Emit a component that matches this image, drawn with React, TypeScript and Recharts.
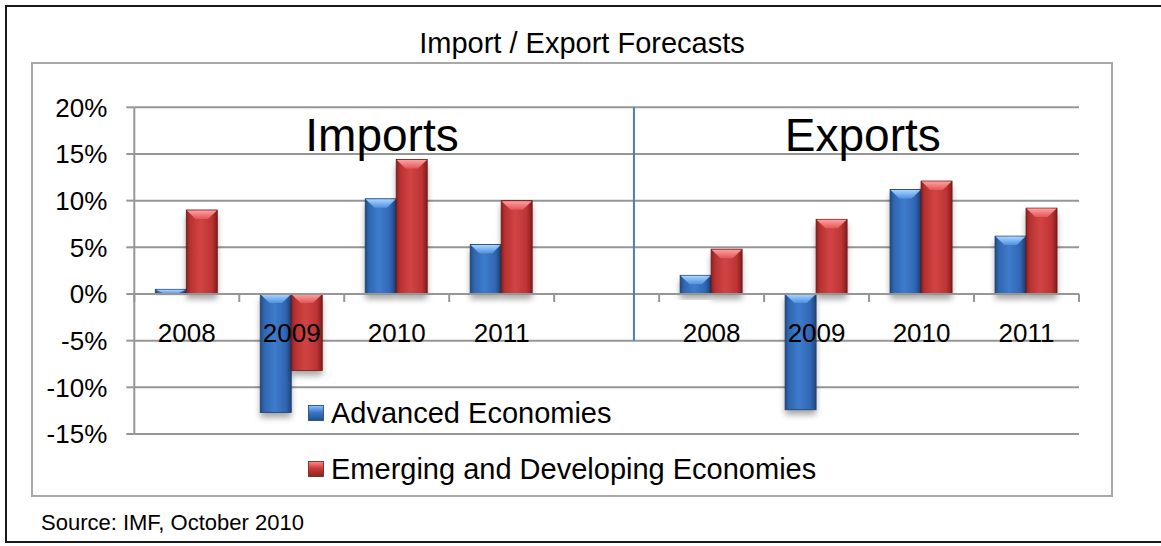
import React from 'react';
import { BarChart, Bar, XAxis, YAxis, CartesianGrid, ReferenceLine, ReferenceDot, Legend } from 'recharts';

// ---- data ----
const categories = ['2008', '2009', '2010', '2011', '', '2008', '2009', '2010', '2011'];
const advanced = [0.5, -12.7, 10.2, 5.3, null, 2.0, -12.4, 11.2, 6.2];
const emerging = [9.0, -8.2, 14.4, 10.0, null, 4.8, 8.0, 12.1, 9.2];
const yTicks = [-15, -10, -5, 0, 5, 10, 15, 20];
const seriesNames = ['Advanced Economies', 'Emerging and Developing Economies'];
const sectionLabels = ['Imports', 'Exports'];
// positions in category-slot units (slot i is centred on i)
const sectionLabelPos = [1.86, 6.44];
const sectionLabelValue = 17.1;
const separatorPos = 4.26;
const separatorRange = [20, -5];
const titleText = 'Import / Export Forecasts';
const sourceText = 'Source: IMF, October 2010';

const data = categories.map((c, i) => ({ slot: i, label: c, adv: advanced[i], emg: emerging[i] }));

// ---- layout ----
const W = 1161;
const H = 546;
const PLOT_LEFT = 134.3;
const PLOT_RIGHT = 1079;
const PLOT_TOP = 107.3;
const PLOT_BOTTOM = 434;
const YMIN = -15;
const YMAX = 20;
const XAXIS_H = 30;
const BAND = (PLOT_RIGHT - PLOT_LEFT) / categories.length;
const ZERO_Y = PLOT_TOP + ((PLOT_BOTTOM - PLOT_TOP) * YMAX) / (YMAX - YMIN);
const GRID = '#969696';
const FONT = '"Liberation Sans", Arial, Helvetica, sans-serif';

const CategoryTick = (props: any) => {
  const { x, payload } = props;
  const idx = Number(payload?.value);
  const left = x - BAND / 2;
  return (
    <g>
      <line x1={left} x2={left} y1={ZERO_Y} y2={ZERO_Y + 8} stroke={GRID} strokeWidth={2} />
      {idx === categories.length - 1 && (
        <line x1={x + BAND / 2} x2={x + BAND / 2} y1={ZERO_Y} y2={ZERO_Y + 8} stroke={GRID} strokeWidth={2} />
      )}
      <text x={x} y={ZERO_Y + 48.5} textAnchor="middle" fontSize={26} fill="#000" fontFamily={FONT}>
        {categories[idx]}
      </text>
    </g>
  );
};

const makeShape = (kind: 'blue' | 'red') => (props: any) => {
  const { x, y, width, height } = props;
  if (x == null || y == null || width == null || height == null || isNaN(y) || isNaN(height)) return null;
  const top = Math.min(y, y + height);
  const h = Math.abs(height);
  if (h <= 0) return null;
  const bev = Math.min(9, h);
  const inset = width * 0.3;
  const stroke = kind === 'blue' ? '#1d3f6e' : '#6a1818';
  return (
    <g>
      <rect x={x} y={top} width={width} height={h} fill="#000" opacity={0.35} filter="url(#barShadow)" />
      <rect x={x} y={top} width={width} height={h} fill={`url(#grad-${kind})`} stroke={stroke} strokeWidth={0.8} />
      <polygon
        points={`${x + 0.5},${top + 0.5} ${x + width - 0.5},${top + 0.5} ${x + width - inset},${top + bev} ${x + inset},${top + bev}`}
        fill={`url(#bev-${kind})`}
      />
    </g>
  );
};

const LegendSwatch = ({ kind }: { kind: 'blue' | 'red' }) => (
  <svg width={16} height={16} style={{ display: 'block' }}>
    <defs>
      <linearGradient id={`lg-${kind}`} x1="0" y1="0" x2="0" y2="1">
        <stop offset="0%" stopColor={kind === 'blue' ? '#8cc4ff' : '#ff8a8a'} />
        <stop offset="45%" stopColor={kind === 'blue' ? '#3a78c8' : '#cc3a3a'} />
        <stop offset="100%" stopColor={kind === 'blue' ? '#244f8c' : '#8c2222'} />
      </linearGradient>
    </defs>
    <rect x={0.5} y={0.5} width={15} height={15} fill={`url(#lg-${kind})`} stroke={kind === 'blue' ? '#1d3f6e' : '#6a1818'} strokeWidth={0.8} />
  </svg>
);

const LegendContent = () => (
  <div style={{ display: 'flex', flexDirection: 'column', fontFamily: FONT }}>
    {seriesNames.map((n, i) => (
      <div key={n} style={{ display: 'flex', alignItems: 'center', height: 56 }}>
        <LegendSwatch kind={i === 0 ? 'blue' : 'red'} />
        <span style={{ marginLeft: 7, fontSize: 29, color: '#000', whiteSpace: 'nowrap' }}>{n}</span>
      </div>
    ))}
  </div>
);

export default function App() {
  return (
    <div style={{ position: 'absolute', left: 0, top: 0, width: W, height: H, background: '#fff', fontFamily: FONT, overflow: 'hidden' }}>
      <div style={{ position: 'absolute', left: 5, top: 5, width: 1180, height: 538, border: '2px solid #1a1a1a', boxSizing: 'border-box' }} />
      <div style={{ position: 'absolute', left: 31, top: 62, width: 1082, height: 435, border: '2px solid #a8a8a8', boxSizing: 'border-box' }} />
      <div style={{ position: 'absolute', left: 0, top: 0 }}>
        <BarChart
          width={W}
          height={H}
          data={data}
          margin={{ top: PLOT_TOP, right: W - PLOT_RIGHT, bottom: H - PLOT_BOTTOM - XAXIS_H, left: 0 }}
          barCategoryGap="20%"
          barGap={0}
        >
          <defs>
            <filter id="barShadow" x="-50%" y="-20%" width="200%" height="150%">
              <feOffset dx="0" dy="5" />
              <feGaussianBlur stdDeviation="3" />
            </filter>
            <linearGradient id="grad-blue" x1="0" y1="0" x2="1" y2="0">
              <stop offset="0%" stopColor="#22497f" />
              <stop offset="12%" stopColor="#2f66b0" />
              <stop offset="45%" stopColor="#3d7ccc" />
              <stop offset="82%" stopColor="#3166b3" />
              <stop offset="100%" stopColor="#21477c" />
            </linearGradient>
            <linearGradient id="grad-red" x1="0" y1="0" x2="1" y2="0">
              <stop offset="0%" stopColor="#8a1f1f" />
              <stop offset="12%" stopColor="#b73131" />
              <stop offset="45%" stopColor="#d24444" />
              <stop offset="82%" stopColor="#bd3434" />
              <stop offset="100%" stopColor="#851c1c" />
            </linearGradient>
            <linearGradient id="bev-blue" x1="0" y1="0" x2="0" y2="1">
              <stop offset="0%" stopColor="#a8d6ff" />
              <stop offset="100%" stopColor="#4f90de" />
            </linearGradient>
            <linearGradient id="bev-red" x1="0" y1="0" x2="0" y2="1">
              <stop offset="0%" stopColor="#ffa0a0" />
              <stop offset="100%" stopColor="#e25656" />
            </linearGradient>
          </defs>
          <CartesianGrid vertical={false} stroke={GRID} strokeWidth={2} />
          <YAxis
            type="number"
            domain={[YMIN, YMAX]}
            ticks={yTicks}
            interval={0}
            allowDataOverflow
            width={PLOT_LEFT}
            tickFormatter={(v: number) => `${v}%`}
            axisLine={{ stroke: GRID, strokeWidth: 2 }}
            tickLine={{ stroke: GRID, strokeWidth: 2 }}
            tickSize={8}
            tickMargin={19}
            tick={{ fontSize: 26, fill: '#000', fontFamily: FONT }}
          />
          <XAxis
            xAxisId="num"
            dataKey="slot"
            type="number"
            domain={[-0.5, categories.length - 0.5]}
            allowDataOverflow
            hide
          />
          <ReferenceLine y={0} stroke={GRID} strokeWidth={2} />
          <Bar dataKey="adv" name={seriesNames[0]} shape={makeShape('blue')} isAnimationActive={false} />
          <Bar dataKey="emg" name={seriesNames[1]} shape={makeShape('red')} isAnimationActive={false} />
          <ReferenceLine
            xAxisId="num"
            segment={[
              { x: separatorPos, y: separatorRange[0] },
              { x: separatorPos, y: separatorRange[1] },
            ]}
            stroke="#4a7ebb"
            strokeWidth={2}
            ifOverflow="visible"
          />
          {sectionLabels.map((t, i) => (
            <ReferenceDot
              key={t}
              xAxisId="num"
              x={sectionLabelPos[i]}
              y={sectionLabelValue}
              r={0}
              fill="none"
              stroke="none"
              ifOverflow="visible"
              label={{ value: t, position: 'center', fontSize: 46, fill: '#000', fontFamily: FONT }}
            />
          ))}
          <XAxis
            dataKey="slot"
            type="category"
            interval={0}
            height={XAXIS_H}
            axisLine={false}
            tickLine={false}
            tick={(p: any) => <CategoryTick {...p} />}
          />
          <Legend
            layout="vertical"
            align="center"
            verticalAlign="middle"
            content={() => <LegendContent />}
            wrapperStyle={{ left: 308, top: 385, width: 'auto' }}
          />
        </BarChart>
      </div>
      <svg width={W} height={H} style={{ position: 'absolute', left: 0, top: 0, pointerEvents: 'none' }}>
        <text x={582} y={53} textAnchor="middle" fontSize={29} fill="#000" fontFamily={FONT}>
          {titleText}
        </text>
        <text x={41} y={529.5} fontSize={22} fill="#000" fontFamily={FONT}>
          {sourceText}
        </text>
      </svg>
    </div>
  );
}
